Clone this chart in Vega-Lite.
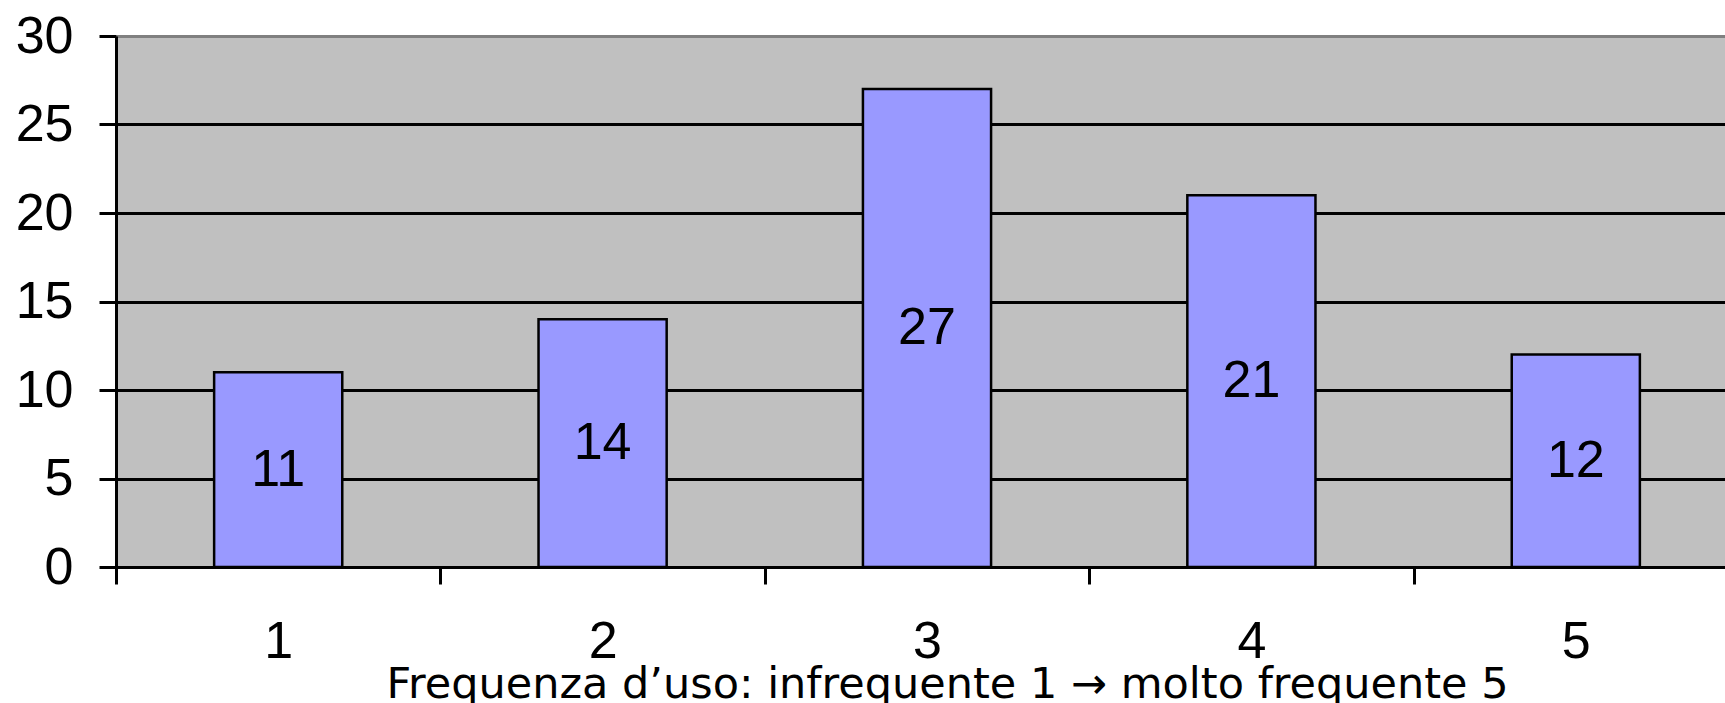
{
  "$schema": "https://vega.github.io/schema/vega-lite/v6.json",
  "width": 1609,
  "height": 531,
  "autosize": {"type": "none"},
  "padding": {"left": 116, "top": 36, "right": 0, "bottom": 136},
  "background": "white",
  "config": {"view": {"fill": "#c0c0c0", "stroke": null}},
  "data": {"values": [
    {"freq": "1", "count": 11},
    {"freq": "2", "count": 14},
    {"freq": "3", "count": 27},
    {"freq": "4", "count": 21},
    {"freq": "5", "count": 12}
  ]},
  "transform": [{"calculate": "datum.count / 2", "as": "mid"}],
  "encoding": {
    "x": {
      "field": "freq", "type": "ordinal",
      "scale": {"range": [0, 1622], "paddingInner": 0, "paddingOuter": 0},
      "axis": {
        "title": "Frequenza d’uso: infrequente 1 → molto frequente 5",
        "labelAngle": 0,
        "tickBand": "extent",
        "domainColor": "black", "domainWidth": 3,
        "tickColor": "black", "tickWidth": 3, "tickSize": 17,
        "labelFont": "Liberation Sans", "labelFontSize": 52, "labelColor": "black", "labelPadding": 32,
        "titleFont": "DejaVu Sans", "titleFontSize": 43, "titleFontWeight": "normal", "titleColor": "black",
        "titleX": 831, "titleY": 130, "titleAlign": "center", "titleBaseline": "alphabetic"
      }
    }
  },
  "layer": [
    {
      "mark": {"type": "bar", "fill": "#9999ff", "stroke": "black", "strokeWidth": 2.5, "width": {"band": 0.395}},
      "encoding": {
        "y": {
          "field": "count", "type": "quantitative",
          "scale": {"domain": [0, 30], "nice": false},
          "axis": {
            "values": [0, 5, 10, 15, 20, 25, 30],
            "title": null,
            "grid": true,
            "gridColor": {"condition": {"test": "datum.value == 30", "value": "#808080"}, "value": "black"},
            "gridWidth": 3,
            "domainColor": "black", "domainWidth": 3,
            "tickColor": "black", "tickWidth": 3, "tickSize": 17,
            "labelFont": "Liberation Sans", "labelFontSize": 52, "labelColor": "black", "labelPadding": 26
          }
        }
      }
    },
    {
      "mark": {"type": "text", "font": "Liberation Sans", "fontSize": 52, "color": "black", "align": "center", "baseline": "middle"},
      "encoding": {
        "y": {"field": "mid", "type": "quantitative"},
        "text": {"field": "count", "type": "quantitative"}
      }
    }
  ]
}
